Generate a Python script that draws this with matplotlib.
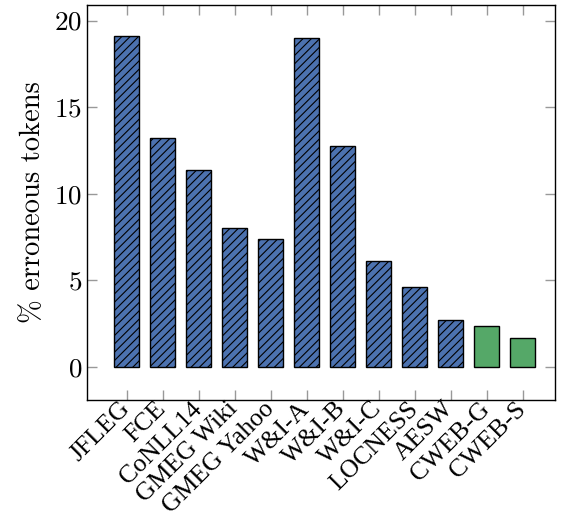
import matplotlib
matplotlib.use('Agg')
import matplotlib.pyplot as plt

plt.rcParams['font.family'] = 'serif'
plt.rcParams['font.serif'] = ['cmr10', 'DejaVu Serif']
plt.rcParams['mathtext.fontset'] = 'cm'
plt.rcParams['axes.formatter.use_mathtext'] = True
plt.rcParams['hatch.linewidth'] = 0.8

corpora = ['JFLEG', 'FCE', 'CoNLL14', 'GMEG Wiki', 'GMEG Yahoo', 'W&I-A',
           'W&I-B', 'W&I-C', 'LOCNESS', 'AESW', 'CWEB-G', 'CWEB-S']
error_rate = [19.1, 13.2, 11.35, 8.0, 7.4, 19.0, 12.75, 6.1, 4.65, 2.7, 2.35, 1.7]
is_cweb = [False] * 10 + [True] * 2

fig = plt.figure(figsize=(5.63, 5.21), dpi=100)
ax = fig.add_axes([87 / 563, 1 - 400 / 521, (555 - 87) / 563, (400 - 5) / 521])

x = list(range(len(corpora)))
for i, (v, c) in enumerate(zip(error_rate, is_cweb)):
    ax.bar(i, v, width=0.68, color='#55A868' if c else '#4C72B0',
           edgecolor='black', linewidth=1.0, hatch=None if c else '////',
           zorder=3)

ax.set_xlim(-1.1, 11.9)
ax.set_ylim(-1.9, 20.9)
ax.set_yticks([0, 5, 10, 15, 20])
ax.set_xticks(x)
ax.set_xticklabels(corpora, rotation=45, ha='right', va='center',
                   rotation_mode='anchor', fontsize=18.5, family='Liberation Serif')
ax.tick_params(axis='y', labelsize=19.5)
ax.tick_params(direction='in', length=7, color='#999999', top=True, right=True, width=1)
ax.tick_params(axis='x', pad=4)
ax.set_ylabel('% erroneous tokens', fontsize=20.5, labelpad=6)
for s in ax.spines.values():
    s.set_linewidth(1.0)

fig.savefig('out.png', dpi=100)
